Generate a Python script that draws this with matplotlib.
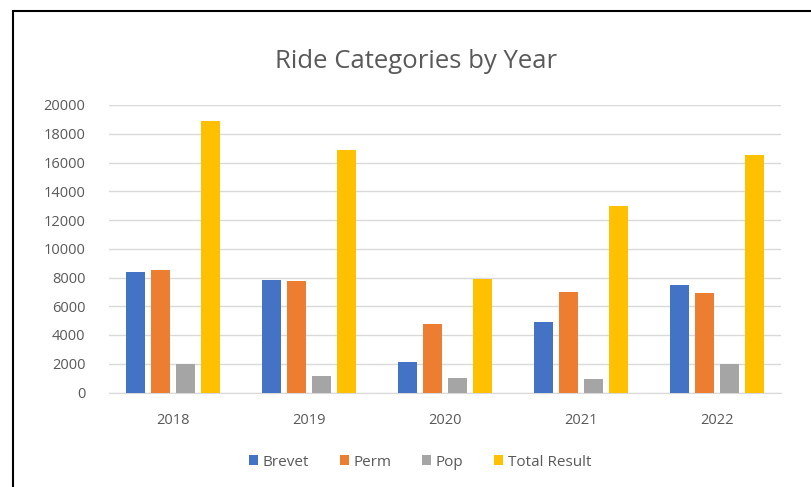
import numpy as np
import matplotlib
matplotlib.use("Agg")
import matplotlib.pyplot as plt
from matplotlib.patches import Rectangle

# Ride counts per year
years = ["2018", "2019", "2020", "2021", "2022"]
brevet = [8350, 7800, 2100, 4900, 7500]
perm = [8500, 7770, 4750, 7000, 6900]
pop = [1950, 1130, 1000, 950, 2000]
total = [18900, 16850, 7900, 12950, 16500]

series = ["Brevet", "Perm", "Pop", "Total Result"]
colors = ["#4472C4", "#ED7D31", "#A5A5A5", "#FFC000"]

plt.rcParams["font.family"] = ["Open Sans", "DejaVu Sans"]
txt = "#595959"

fig = plt.figure(figsize=(8.11, 4.87), dpi=100)
# plot area in pixels: x 109..781, y 105..392.5
ax = fig.add_axes([109 / 811, 1 - 392.5 / 487, (781 - 109) / 811, (392.5 - 105) / 487])

x = np.arange(len(years))
pitch = 0.184
width = 0.14
for i, (name, vals) in enumerate(zip(series, [brevet, perm, pop, total])):
    ax.bar(x + (i - 1.5) * pitch, vals, width, color=colors[i], label=name, zorder=3)

ax.set_xlim(-0.47, len(years) - 0.53)
ax.set_ylim(0, 20000)
ax.set_yticks(range(0, 20001, 2000))
ax.set_xticks(x)
ax.set_xticklabels(years)
ax.tick_params(axis="both", length=0, colors=txt, labelsize=10.5)
ax.tick_params(axis="y", pad=17)
ax.tick_params(axis="x", pad=15)
ax.grid(axis="y", color="#D9D9D9", linewidth=1, zorder=0)
for s in ["top", "right", "left"]:
    ax.spines[s].set_visible(False)
ax.spines["bottom"].set_color("#D9D9D9")

fig.text(416 / 811, 1 - 61 / 487, "Ride Categories by Year", ha="center", va="center",
         fontsize=18.5, color=txt)

fig.legend(loc="center", bbox_to_anchor=(420 / 811, 1 - 462 / 487), ncol=4, frameon=False,
           fontsize=11, labelcolor=txt, handlelength=0.6, handleheight=0.6,
           handletextpad=0.3, columnspacing=2.0)

# black frame around chart area
fig.patches.append(Rectangle((13 / 811, -0.1), 1.2, 1.1 - 11 / 487, transform=fig.transFigure,
                             fill=False, edgecolor="black", linewidth=1.5))

fig.savefig("out.png", dpi=100)
